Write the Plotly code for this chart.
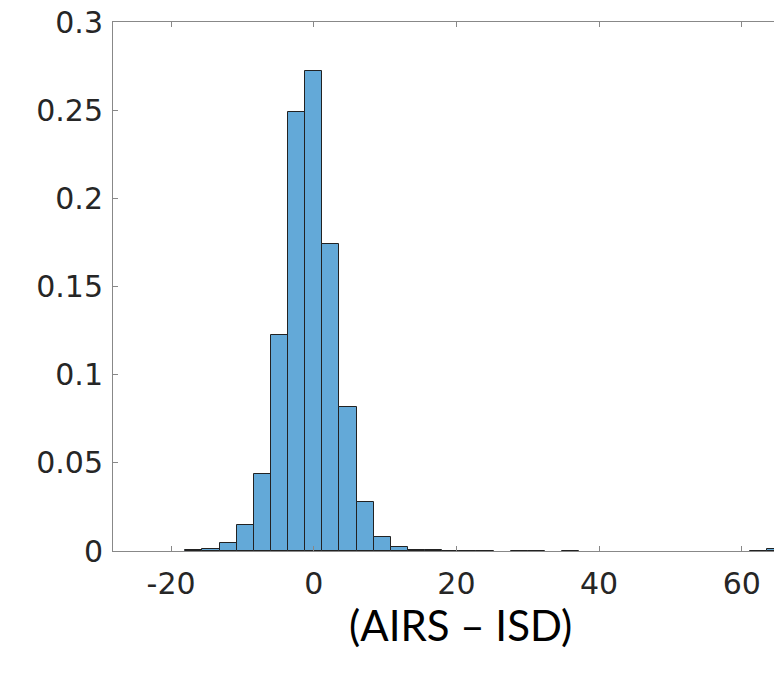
import plotly.graph_objects as go

# histogram of (AIRS - ISD), bin width 2.4, probability normalisation
bin_centers = [-16.8, -14.4, -12.0, -9.6, -7.2, -4.8, -2.4, 0.0, 2.4, 4.8,
               7.2, 9.6, 12.0, 14.4, 16.8, 19.2, 21.6, 24.0,
               28.8, 31.2, 36.0, 62.4, 64.8]
probability = [0.0004, 0.001, 0.0044, 0.0146, 0.0437, 0.1225, 0.2488, 0.2724, 0.174, 0.0817,
               0.028, 0.0081, 0.0025, 0.0008, 0.0003, 0.0002, 0.0002, 0.0002,
               0.0002, 0.0002, 0.0002, 0.0002, 0.001]
bin_width = 2.4

x_ticks = [-20, 0, 20, 40, 60]
x_tick_labels = ["-20", "0", "20", "40", "60"]
y_ticks = [0, 0.05, 0.1, 0.15, 0.2, 0.25, 0.3]
y_tick_labels = ["0", "0.05", "0.1", "0.15", "0.2", "0.25", "0.3"]

fig = go.Figure(go.Bar(
    x=bin_centers,
    y=probability,
    width=bin_width,
    marker=dict(color="#63a9d8", line=dict(color="#222222", width=1)),
))

axis_style = dict(
    showline=True, linecolor="#888888", linewidth=1, mirror="ticks",
    ticks="inside", ticklen=5, tickcolor="#888888",
    showgrid=False, zeroline=False, automargin=False,
    ticklabeloverflow="allow",
    tickfont=dict(family="DejaVu Sans", size=30, color="#262626"),
)

fig.update_xaxes(range=[-28.14, 65.64], tickvals=x_ticks, ticktext=x_tick_labels,
                 ticklabelstandoff=6, **axis_style)
fig.update_yaxes(range=[0, 0.3001], tickvals=y_ticks, ticktext=y_tick_labels,
                 ticklabelstandoff=3, **axis_style)

fig.add_annotation(text="(AIRS \u2013 ISD)", xref="paper", yref="paper",
                   x=0.52, y=-0.14, xanchor="center", yanchor="middle",
                   showarrow=False,
                   font=dict(family="Lato", size=42, color="#000000"))

# page body has an 8px margin, so the figure is sized/offset to compensate
fig.update_layout(
    width=774, height=670,
    margin=dict(l=105, r=0, t=14, b=127),
    plot_bgcolor="white", paper_bgcolor="white",
    showlegend=False, bargap=0,
)

fig.write_html("out.html")
